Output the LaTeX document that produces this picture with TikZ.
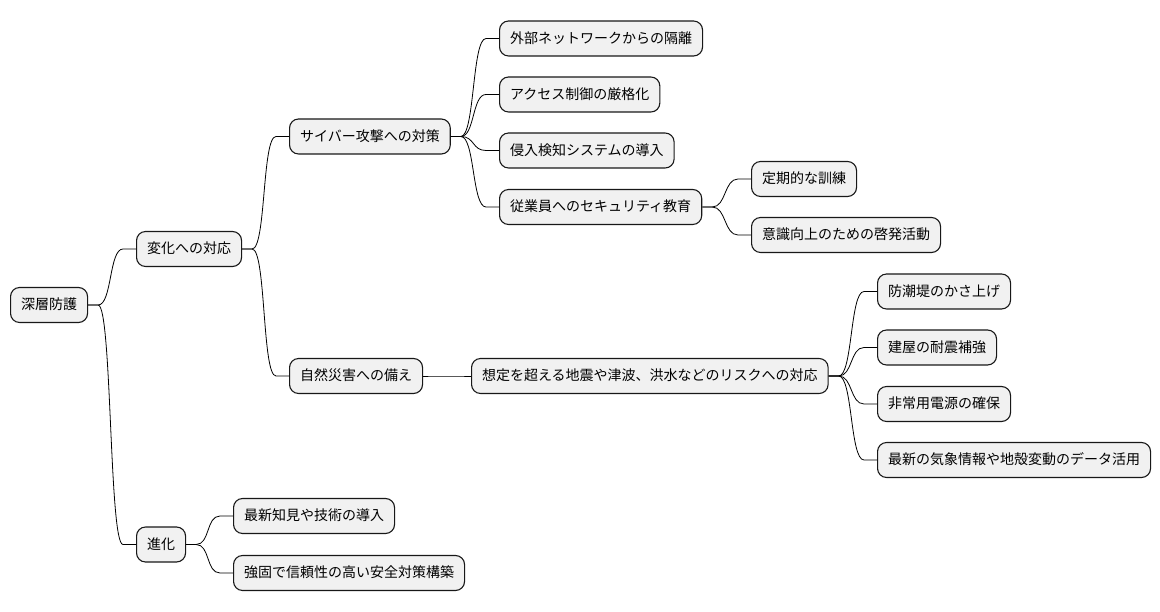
\documentclass[tikz,border=0pt]{standalone}
\usepackage{fontspec}
\setmainfont{Noto Sans CJK JP}
\usepackage{xcolor}
\usetikzlibrary{shapes.misc}
\definecolor{boxfill}{HTML}{F1F1F1}
\definecolor{boxline}{HTML}{181818}
\tikzset{
  topic/.style={
    rectangle,
    rounded corners=9pt,
    draw=boxline,
    fill=boxfill,
    line width=1.1pt,
    minimum height=35pt,
    inner xsep=10.5pt,
    text height=11.5pt,
    text depth=2pt,
    anchor=west,
    font=\fontsize{14pt}{16pt}\selectfont
  },
  branch/.style={
    draw=black,
    line width=0.8pt,
    to path={-- ++(10pt,0) .. controls +(14pt,0) and +(-14pt,0) .. ([xshift=-13pt]\tikztotarget) -- (\tikztotarget)}
  }
}
\begin{document}
\begin{tikzpicture}[x=1pt, y=-1pt]
  \useasboundingbox (0,0) rectangle (1160,612);

  % Root and first level
  \node (root) [topic] at (10,305) {深層防護};
  \node (change) [topic] at (136,249) {変化への対応};
  \node (evolve) [topic] at (136,544.5) {進化};

  % Second level
  \node (cyber) [topic] at (289,136.5) {サイバー攻撃への対策};
  \node (nature) [topic] at (289,376) {自然災害への備え};

  % Cyber measures
  \node (isolate) [topic] at (499,38.5) {外部ネットワークからの隔離};
  \node (access) [topic] at (499,94.5) {アクセス制御の厳格化};
  \node (detect) [topic] at (499,150.5) {侵入検知システムの導入};
  \node (educate) [topic] at (499,207) {従業員へのセキュリティ教育};
  \node (drill) [topic] at (751,179) {定期的な訓練};
  \node (aware) [topic] at (751,235) {意識向上のための啓発活動};

  % Natural disasters
  \node (risk) [topic] at (471,376) {想定を超える地震や津波、洪水などのリスクへの対応};
  \node (seawall) [topic] at (877,291.5) {防潮堤のかさ上げ};
  \node (quake) [topic] at (877,347.5) {建屋の耐震補強};
  \node (power) [topic] at (877,404) {非常用電源の確保};
  \node (data) [topic] at (877,460) {最新の気象情報や地殻変動のデータ活用};

  % Evolution
  \node (insight) [topic] at (233,516) {最新知見や技術の導入};
  \node (robust) [topic] at (233,573) {強固で信頼性の高い安全対策構築};

  % Branches
  \draw[branch] (root.east) to (change.west);
  \draw[branch] (root.east) to (evolve.west);
  \draw[branch] (change.east) to (cyber.west);
  \draw[branch] (change.east) to (nature.west);
  \draw[branch] (cyber.east) to (isolate.west);
  \draw[branch] (cyber.east) to (access.west);
  \draw[branch] (cyber.east) to (detect.west);
  \draw[branch] (cyber.east) to (educate.west);
  \draw[branch] (educate.east) to (drill.west);
  \draw[branch] (educate.east) to (aware.west);
  \draw[branch] (nature.east) to (risk.west);
  \draw[branch] (risk.east) to (seawall.west);
  \draw[branch] (risk.east) to (quake.west);
  \draw[branch] (risk.east) to (power.west);
  \draw[branch] (risk.east) to (data.west);
  \draw[branch] (evolve.east) to (insight.west);
  \draw[branch] (evolve.east) to (robust.west);

\end{tikzpicture}
\end{document}
